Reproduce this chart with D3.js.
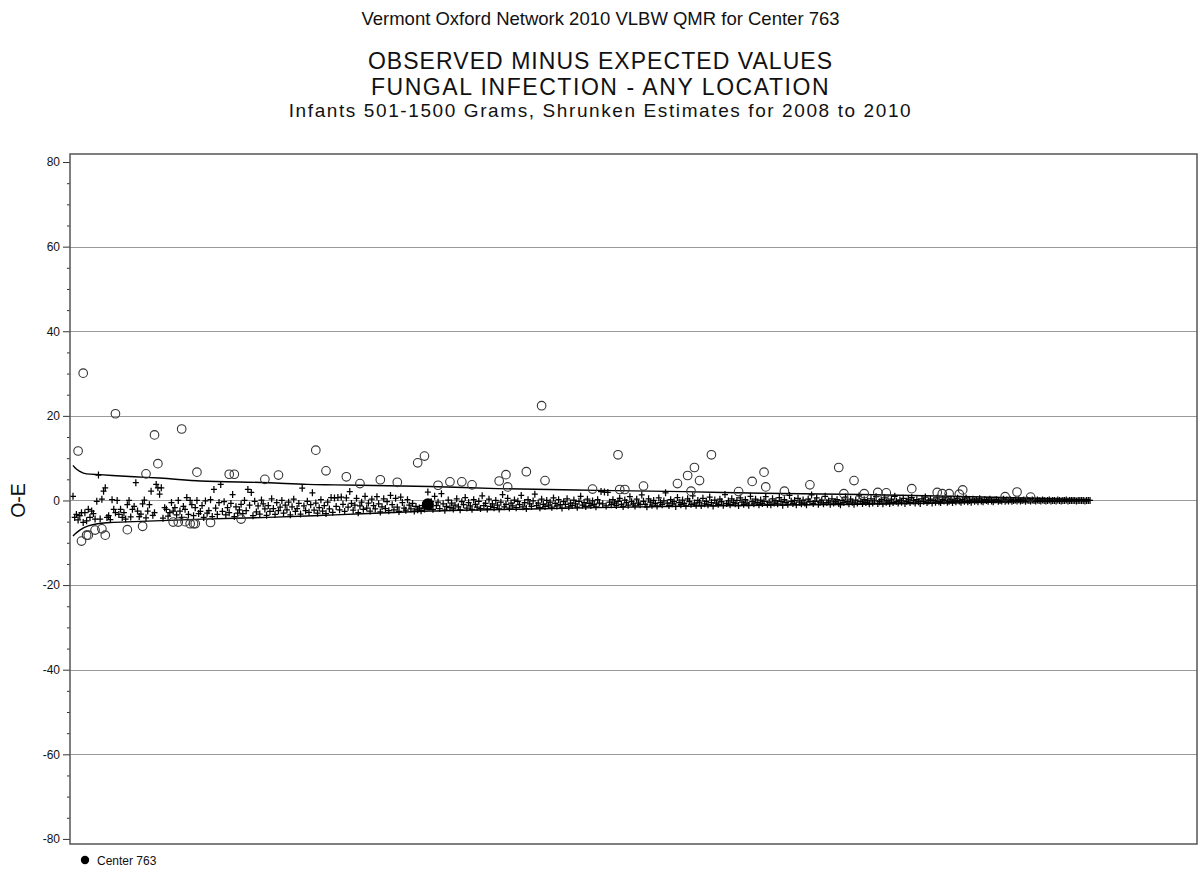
<!DOCTYPE html>
<html>
<head>
<meta charset="utf-8">
<script src="https://cdn.jsdelivr.net/npm/d3@7"></script>
<style>
  html, body { margin: 0; padding: 0; background: #fff; }
  svg { display: block; font-family: "Liberation Sans", Arial, sans-serif; }
</style>
</head>
<body>
<svg id="chart" width="1201" height="873"></svg>
<script>
// ---------------- DATA ----------------
const titleLines = [
  "Vermont Oxford Network 2010 VLBW QMR for Center 763",
  "OBSERVED MINUS EXPECTED VALUES",
  "FUNGAL INFECTION - ANY LOCATION",
  "Infants 501-1500 Grams, Shrunken Estimates for 2008 to 2010"
];
const yAxisLabel = "O-E";
const legendLabel = "Center 763";
const yTickLabels = [80, 60, 40, 20, 0, -20, -40, -60, -80];
const yGridValues = [60, 40, 20, 0, -20, -40, -60];

// O-E for centers inside the limits, by center rank (1..N)
const insideValues = [
  1.0,-4.0,-3.3,-4.6,-3.6,-2.9,-5.2,-2.9,-4.8,-2.1,-4.0,-2.5,-3.1,-4.4,-0.2,6.0,-4.4,0.3,2.2,3.0,
  -4.0,-3.6,-4.5,0.2,-2.1,-2.9,0.0,-3.3,-2.1,-4.0,-2.9,-4.4,-1.0,0.0,-3.9,-2.1,-1.4,4.2,-2.5,-3.8,
  -3.2,-0.8,0.1,-4.1,-2.5,-1.0,2.2,-3.5,-2.9,3.8,3.0,1.5,3.0,-4.2,-1.7,-2.1,-3.7,-2.9,-0.5,-2.5,
  -1.7,-3.4,0.0,-2.5,-4.0,-1.4,-2.1,0.7,-3.3,0.0,-1.0,-3.6,-1.7,0.0,-3.1,-2.6,-1.2,-4.0,-0.1,-3.0,
  -2.4,0.2,-3.8,2.6,-1.8,-3.3,-0.5,3.8,-2.6,-0.3,-3.4,-1.7,-2.9,-0.7,1.4,-3.8,-1.5,-3.0,-2.2,-0.9,
  -3.1,0.0,-2.4,2.6,-1.1,1.9,-3.6,-0.2,-2.7,-1.3,-3.2,0.1,-0.8,-2.0,-3.5,-1.2,-2.6,0.4,-1.9,-3.3,
  -0.5,-2.4,-1.6,0.0,-3.0,-1.1,-2.2,-0.4,-3.4,-1.5,0.3,-2.6,-1.9,-0.7,-3.2,2.9,-1.3,-2.4,-0.2,-2.8,
  -1.0,1.8,-2.3,-0.6,-3.0,-1.7,0.2,-2.5,-1.2,-3.1,-0.4,-2.0,
  0.7,-2.8,0.6,-1.4,0.7,-2.2,0.8,-0.9,-2.6,0.6,-1.6,2.1,-0.7,-2.3,-1.1,0.5,-2.9,-1.3,-0.4,-2.1,
  1.0,-1.8,-0.6,-2.5,0.3,-1.2,-2.0,0.9,-0.8,-2.7,-1.5,0.4,-1.9,-0.3,-2.4,1.2,-1.0,-2.2,0.5,-1.6,
  -2.6,0.8,-0.5,-1.8,-2.3,0.2,-1.1,-2.0,-0.7,-2.5,-1.4,-2.2,-1.8,-2.4,-1.2,-2.0,-0.9,2.0,-1.5,-0.3,
  -2.1,1.0,-1.2,-0.4,-1.9,1.6,-0.8,-2.3,-1.4,0.1,-1.7,-0.6,-2.0,-1.1,0.4,-1.5,-2.2,-0.3,-1.0,0.7,
  -1.8,-0.5,-1.3,-2.1,0.2,-0.9,-1.6,-0.2,-1.9,1.1,-1.2,-0.7,-2.0,0.3,-1.4,-0.8,-1.7,0.0,-1.1,-2.0,
  -0.4,1.4,-1.5,-0.9,0.5,-1.8,-0.6,-1.3,0.1,-1.7,-0.2,-1.0,1.2,-1.5,-0.5,-1.9,0.2,-0.8,-1.4,-0.1,
  1.5,-1.2,-0.6,-1.7,0.3,-0.9,-1.4,0.0,-1.1,-0.4,-1.6,0.6,-0.7,-1.3,0.2,-1.0,-1.8,-0.3,-0.9,0.4,
  -1.5,-0.6,-1.2,0.1,-0.8,-1.6,-0.2,1.0,-1.1,-0.5,-1.4,0.3,-0.7,-1.2,-0.1,-0.9,-1.5,0.2,-0.6,
  2.1,-0.8,2.0,-1.3,1.9,-0.4,-1.0,0.2,-0.6,-1.2,-0.2,0.5,-0.9,-1.4,0.1,-0.5,-1.1,0.9,-0.3,-0.8,
  -1.3,0.3,-0.6,-1.0,1.3,-0.2,-0.9,-1.5,0.4,-0.4,-1.1,0.0,-0.7,-1.3,0.6,-0.5,-1.0,-0.1,1.8,-0.6,
  -1.2,0.2,-0.8,-0.3,-1.4,0.7,-0.5,-1.0,0.1,-0.7,-1.3,0.4,-0.2,-0.9,1.1,-0.6,-1.1,0.0,-0.4,-1.2,
  0.5,-0.8,-0.2,-1.0,0.8,-0.5,-1.3,0.1,-0.6,-0.9,0.3,-0.3,-1.1,1.4,-0.7,-0.1,-1.0,0.4,-0.5,-0.8,
  0.0,-1.2,0.6,-0.4,-0.9,0.2,-0.6,-1.1,1.0,-0.3,-0.8,0.3,-0.5,-1.0,0.1,-0.7,-0.2,0.9,-0.9,-0.4,
  -1.0,0.4,-0.6,-0.1,-0.8,0.7,-0.3,-1.1,0.2,-0.5,-0.9,1.2,-0.2,-0.7,0.0,-1.0,0.5,-0.4,-0.8,0.1,
  -0.6,-1.0,0.3,-0.3,1.3,-0.7,-0.2,0.6,-0.9,-0.4,0.1,-0.8,1.0,-0.5,-0.1,-0.9,0.4,-0.6,-0.3,0.2,
  -0.7,-1.0,0.0,-0.5,0.8,-0.3,-0.8,0.3,-0.4,-0.9,0.1,-0.6,1.1,-0.2,-0.7,0.2,-0.5,-0.1,-0.8,
  0.4,-0.6,-0.1,0.9,-0.7,-0.3,0.2,-0.8,0.6,-0.4,-0.1,-0.7,0.3,-0.5,1.0,-0.2,-0.6,0.1,-0.4,0.5,
  -0.7,-0.2,0.3,-0.5,0.7,-0.1,-0.6,0.2,-0.3,-0.7,0.4,-0.2,0.8,-0.5,-0.1,0.3,-0.6,0.0,-0.4,0.6,
  -0.3,-0.5,0.2,-0.1,0.7,-0.4,-0.2,0.3,-0.5,0.1,-0.3,0.5,-0.1,-0.4,0.2,-0.2,0.6,-0.3,0.0,-0.4,
  0.3,-0.2,0.1,-0.3,0.4,-0.1,-0.3,0.2,0.0,-0.2,0.3,-0.1,-0.3,0.1,0.2,-0.2,0.0,-0.1,0.3,-0.2,
  0.1,-0.1,0.2,-0.2,0.0,0.1,-0.1,0.2,-0.1,0.0,0.1,-0.2,0.1,0.0,-0.1,0.1,0.0,-0.1,0.1,0.0,
  -0.1,0.1,0.0,-0.1,0.0,0.1,-0.1,0.0,0.0,-0.1,0.1,0.0,-0.1,0.0,0.0,0.1,-0.1,0.0,0.0,0.0,
  0.0,-0.1,0.0,0.0,0.0,0.0,-0.1,0.0,0.0,0.0
];

// Centers outside the limits: [rank, O-E]
const outsideRanks = [4,7,26,44,49,51,65,74,93,96,114,122,
  6,9,10,14,18,20,33,42,60,63,67,70,72,73,82,100,
  144,150,162,170,182,192,204,208,216,223,230,236,252,256,257,268,277,279,307,
  322,323,326,337,357,363,365,367,370,377,393,401,408,409,420,435,452,455,461,467,
  475,480,495,510,513,517,523,525,550,557,565];
const outsideValues = [11.7,30.1,20.5,6.3,15.5,8.7,16.9,6.7,6.2,6.2,5.0,6.0,
  -9.6,-8.2,-8.2,-7.0,-6.7,-8.2,-6.9,-6.1,-5.1,-5.1,-5.0,-5.5,-5.5,-5.5,-5.2,-4.4,
  11.9,7.0,5.6,4.0,4.9,4.3,8.9,10.5,3.6,4.4,4.4,3.7,4.6,6.1,3.2,6.8,22.4,4.7,2.7,
  10.8,2.6,2.6,3.4,4.0,5.9,2.2,7.8,4.7,10.8,2.1,4.5,6.7,3.2,2.2,3.7,7.8,1.6,4.7,1.6,
  1.9,1.8,2.8,1.9,1.6,1.6,1.5,2.5,0.9,2.0,0.8];

// Control limits sampled along the rank axis
const upperRanks  = [1, 2, 5, 9, 17, 37, 52, 76, 116, 139, 155, 211, 251, 309, 361, 407, 465, 518, 559, 600];
const upperValues = [8.3, 7.8, 6.9, 6.3, 6.1, 5.6, 5.3, 4.6, 4.2, 3.8, 3.7, 3.3, 2.8, 2.4, 2.1, 1.7, 1.4, 1.0, 0.6, 0.2];
const lowerRanks  = [1, 2, 5, 10, 23, 37, 77, 116, 155, 211, 270, 309, 370, 465, 518, 559, 600];
const lowerValues = [-8.4, -8.0, -7.0, -6.0, -5.2, -5.0, -4.4, -4.0, -3.4, -2.5, -2.0, -1.7, -1.3, -0.9, -0.6, -0.3, -0.1];

// Highlighted center
const highlightRank = 210;
const highlightValue = -0.9;

// ---------------- LAYOUT ----------------
const W = 1201, H = 873;
const plot = { left: 70, right: 1197, top: 154, bottom: 844 };
const svg = d3.select("#chart");

const x = d3.scaleLinear().domain([-0.77, 663]).range([plot.left, plot.right]);
const y = d3.scaleLinear().domain([-81.2, 81.9]).range([plot.bottom, plot.top]);

// Titles
const titleSpecs = [
  { y: 25, size: 18.5, ls: 0 },
  { y: 69, size: 23, ls: 1.05 },
  { y: 94.5, size: 23, ls: 1.55 },
  { y: 116.5, size: 19, ls: 1.6 }
];
svg.selectAll("text.title").data(titleLines).join("text")
  .attr("class", "title")
  .attr("x", W / 2)
  .attr("y", (d, i) => titleSpecs[i].y)
  .attr("text-anchor", "middle")
  .attr("font-size", (d, i) => titleSpecs[i].size)
  .attr("letter-spacing", (d, i) => titleSpecs[i].ls)
  .attr("fill", "#111")
  .text(d => d);

// Gridlines
svg.append("g").selectAll("line").data(yGridValues).join("line")
  .attr("x1", plot.left).attr("x2", plot.right)
  .attr("y1", d => Math.round(y(d)) + 0.5).attr("y2", d => Math.round(y(d)) + 0.5)
  .attr("stroke", "#9a9a9a").attr("stroke-width", 1);

// Minor ticks
const minorTicks = d3.range(-80, 81, 5).filter(v => v % 20 !== 0);
svg.append("g")
  .attr("transform", `translate(${plot.left},0)`)
  .call(d3.axisLeft(y).tickValues(minorTicks).tickSize(3).tickFormat(""))
  .call(g => g.select(".domain").remove())
  .selectAll("line").attr("stroke", "#333");

// Major ticks
svg.append("g")
  .attr("transform", `translate(${plot.left},0)`)
  .call(d3.axisLeft(y).tickValues(yTickLabels).tickSize(7).tickPadding(3).tickFormat(d => String(d)))
  .call(g => g.select(".domain").remove())
  .call(g => g.selectAll("line").attr("stroke", "#333"))
  .call(g => g.selectAll("text").attr("font-size", 12).attr("fill", "#111")
    .attr("font-family", "'Liberation Sans', Arial, sans-serif"));

// Y axis title
svg.append("text")
  .attr("transform", `translate(25, ${y(0)}) rotate(-90)`)
  .attr("text-anchor", "middle")
  .attr("font-size", 19.5)
  .attr("fill", "#111")
  .text(yAxisLabel);

// Inside points (plus markers)
const inside = insideValues.map((v, i) => ({ rank: i + 1, value: v }));
svg.append("g").selectAll("path").data(inside).join("path")
  .attr("transform", d => `translate(${x(d.rank)},${y(d.value)})`)
  .attr("d", "M-3,0H3M0,-3.5V3.5")
  .attr("stroke", "#000")
  .attr("stroke-width", 1.25)
  .attr("fill", "none");

// Control limit lines
const line = d3.line().x(d => x(d[0])).y(d => y(d[1])).curve(d3.curveMonotoneX);
svg.append("path")
  .attr("d", line(d3.zip(upperRanks, upperValues)))
  .attr("fill", "none").attr("stroke", "#000").attr("stroke-width", 1.4);
svg.append("path")
  .attr("d", line(d3.zip(lowerRanks, lowerValues)))
  .attr("fill", "none").attr("stroke", "#000").attr("stroke-width", 1.4);

// Outside points (open circles)
const outside = d3.zip(outsideRanks, outsideValues);
svg.append("g").selectAll("circle").data(outside).join("circle")
  .attr("cx", d => x(d[0]))
  .attr("cy", d => y(d[1]))
  .attr("r", 4.3)
  .attr("fill", "none")
  .attr("stroke", "#333")
  .attr("stroke-width", 1.1);

// Highlighted center
svg.append("circle")
  .attr("cx", x(highlightRank)).attr("cy", y(highlightValue))
  .attr("r", 6).attr("fill", "#000");

// Frame
svg.append("rect")
  .attr("x", plot.left).attr("y", plot.top)
  .attr("width", plot.right - plot.left).attr("height", plot.bottom - plot.top)
  .attr("fill", "none").attr("stroke", "#555").attr("stroke-width", 1.5);

// Legend
svg.append("circle").attr("cx", 85).attr("cy", 860).attr("r", 4.2).attr("fill", "#000");
svg.append("text").attr("x", 97).attr("y", 865)
  .attr("font-size", 12).attr("fill", "#111").text(legendLabel);
</script>
</body>
</html>
